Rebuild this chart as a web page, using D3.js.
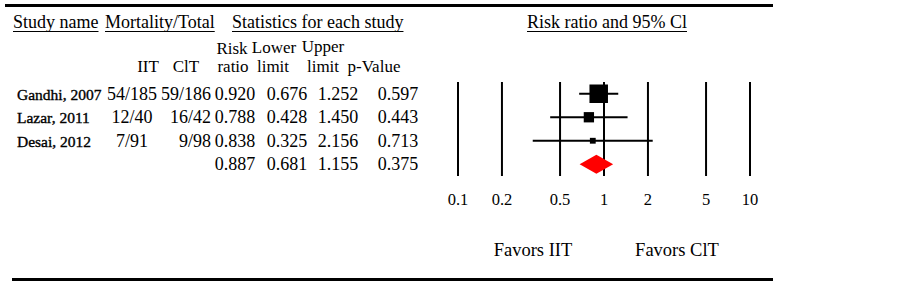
<!DOCTYPE html>
<meta charset="utf-8">
<style>
body { margin: 0; background: #fff; }
text { font-family: "Liberation Serif", "Times New Roman", serif; fill: #000; }
.hdr { font-size: 18px; }
.sub { font-size: 17px; }
.val { font-size: 18px; }
.name { font-size: 15.5px; stroke: #000; stroke-width: 0.35px; }
.tick { font-size: 16.5px; text-anchor: middle; }
.favor { font-size: 18.5px; }
</style>
<svg width="903" height="284"></svg>
<script src="https://cdn.jsdelivr.net/npm/d3@7"></script>
<script>

var studies = ["Gandhi, 2007", "Lazar, 2011", "Desai, 2012", ""];
var iit = ["54/185", "12/40", "7/91", ""];
var cit = ["59/186", "16/42", "9/98", ""];
var riskRatio = [0.920, 0.788, 0.838, 0.887];
var lower = [0.676, 0.428, 0.325, 0.681];
var upper = [1.252, 1.450, 2.156, 1.155];
var pValue = [0.597, 0.443, 0.713, 0.375];
var weights = [71, 22, 7];
var tickValues = [0.1, 0.2, 0.5, 1, 2, 5, 10];

var svg = d3.select("svg");

var x = d3.scaleLog().domain([0.1, 10]).range([458, 750]);
var y = d3.scaleBand().domain(d3.range(4)).range([82, 176]);
var size = d3.scaleSqrt().domain([0, d3.max(weights)]).range([0, 18.5]);

// rules top and bottom
svg.append("line").attr("x1", 5).attr("x2", 773).attr("y1", 5.5).attr("y2", 5.5)
    .attr("stroke", "#000").attr("stroke-width", 3);
svg.append("line").attr("x1", 12).attr("x2", 773).attr("y1", 279.5).attr("y2", 279.5)
    .attr("stroke", "#000").attr("stroke-width", 3);

// underlined headings
var heads = [
  {t: "Study name", x: 13, a: "start"},
  {t: "Mortality/Total", x: 105, a: "start"},
  {t: "Statistics for each study", x: 232, a: "start"},
  {t: "Risk ratio and 95% Cl", x: 607, a: "middle"}
];
heads.forEach(function(h) {
  var t = svg.append("text").attr("class", "hdr")
      .attr("x", h.x).attr("y", 28)
      .attr("text-anchor", h.a).text(h.t);
  var w = t.node().getComputedTextLength();
  var x0 = h.a == "middle" ? h.x - w / 2 : h.x;
  svg.append("line").attr("x1", x0).attr("x2", x0 + w)
      .attr("y1", 31.5).attr("y2", 31.5)
      .attr("stroke", "#000").attr("stroke-width", 1);
});

var sub = [
  {t: "IIT", x: 148, y: 72},
  {t: "ClT", x: 186, y: 72},
  {t: "Risk", x: 232, y: 54},
  {t: "ratio", x: 233, y: 72},
  {t: "Lower", x: 274, y: 53},
  {t: "limit", x: 273, y: 72},
  {t: "Upper", x: 323, y: 52},
  {t: "limit", x: 323, y: 72},
  {t: "p-Value", x: 374, y: 72}
];
svg.selectAll(".sub").data(sub).enter().append("text")
    .attr("class", "sub")
    .attr("x", function(d) { return d.x; })
    .attr("y", function(d) { return d.y; })
    .attr("text-anchor", "middle")
    .text(function(d) { return d.t; });

// table rows
var base = function(i) { return y(i) + y.bandwidth() / 2 + 6; };
var fmt = d3.format(".3f");

svg.selectAll(".name").data(studies).enter().append("text")
    .attr("class", "name").attr("x", 17)
    .attr("y", function(d, i) { return base(i); })
    .text(function(d) { return d; });

var cols = [
  {vals: iit, x: 132, a: "middle", f: String},
  {vals: cit, x: 211, a: "end", f: String},
  {vals: riskRatio, x: 235, a: "middle", f: fmt},
  {vals: lower, x: 287, a: "middle", f: fmt},
  {vals: upper, x: 338, a: "middle", f: fmt},
  {vals: pValue, x: 398, a: "middle", f: fmt}
];
cols.forEach(function(c) {
  svg.append("g").selectAll("text").data(c.vals).enter().append("text")
      .attr("class", "val").attr("x", c.x).attr("y", function(d, i) { return base(i); })
      .attr("text-anchor", c.a)
      .text(function(d) { return c.f(d); });
});

// forest plot grid lines
svg.selectAll(".grid").data(tickValues).enter().append("line")
    .attr("x1", x).attr("x2", x)
    .attr("y1", 82).attr("y2", 176)
    .attr("stroke", "#000").attr("stroke-width", 2);

svg.selectAll(".tick").data(tickValues).enter().append("text")
    .attr("class", "tick").attr("x", x).attr("y", 205)
    .text(function(d) { return d; });

// study CIs and squares
var rows = d3.range(3);
svg.selectAll(".ci").data(rows).enter().append("line")
    .attr("x1", function(i) { return x(lower[i]); })
    .attr("x2", function(i) { return x(upper[i]); })
    .attr("y1", function(i) { return y(i) + y.bandwidth() / 2; })
    .attr("y2", function(i) { return y(i) + y.bandwidth() / 2; })
    .attr("stroke", "#000").attr("stroke-width", 2);

svg.selectAll(".sq").data(rows).enter().append("rect")
    .attr("x", function(i) { return x(riskRatio[i]) - size(weights[i]) / 2; })
    .attr("y", function(i) { return y(i) + y.bandwidth() / 2 - size(weights[i]) / 2; })
    .attr("width", function(i) { return size(weights[i]); })
    .attr("height", function(i) { return size(weights[i]); })
    .attr("fill", "#000");

// pooled diamond
var cy = y(3) + y.bandwidth() / 2;
svg.append("path")
    .attr("d", "M" + x(lower[3]) + "," + cy +
               "L" + x(riskRatio[3]) + "," + (cy - 9.5) +
               "L" + x(upper[3]) + "," + cy +
               "L" + x(riskRatio[3]) + "," + (cy + 9.5) + "Z")
    .attr("fill", "#ff0000");

svg.append("text").attr("class", "favor").attr("x", 533).attr("y", 256)
    .attr("text-anchor", "middle").text("Favors IIT");
svg.append("text").attr("class", "favor").attr("x", 677).attr("y", 256)
    .attr("text-anchor", "middle").text("Favors ClT");

</script>
